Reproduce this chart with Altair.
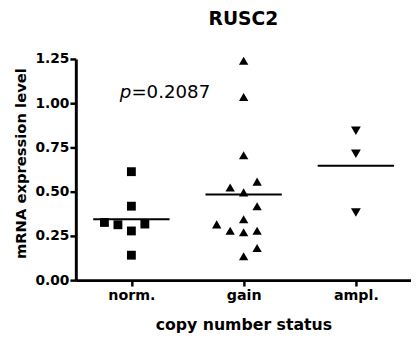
import altair as alt
import pandas as pd

# ---- data ----
groups = ["norm.", "gain", "ampl."]
group_index = [1, 2, 3]
group_shapes = ["square", "triangle-up", "triangle-down"]

norm_vals = [0.613, 0.418, 0.326, 0.313, 0.278, 0.317, 0.141]
norm_jit = [0, 0, -0.24, -0.12, 0, 0.12, 0]
gain_vals = [1.240, 1.035, 0.706, 0.557, 0.524, 0.496, 0.418, 0.344,
             0.315, 0.279, 0.271, 0.279, 0.182, 0.135]
gain_jit = [0, 0, 0, 0.12, -0.12, 0, 0.12, 0, -0.24, -0.12, 0, 0.12, 0.12, 0]
ampl_vals = [0.844, 0.715, 0.382]
ampl_jit = [0, 0, 0]

y_ticks = [0, 0.25, 0.5, 0.75, 1.0, 1.25]
p_parts = ["p", "=0.2087"]
p_pos = [1.0, 1.029]  # data coords of the annotation anchor
mean_half_width = 0.34

rows = []
for g, i, vals, jit in zip(groups, group_index, [norm_vals, gain_vals, ampl_vals],
                           [norm_jit, gain_jit, ampl_jit]):
    for v, j in zip(vals, jit):
        rows.append({"group": g, "idx": i, "value": v, "jit": j})
df = pd.DataFrame(rows)

FONT = "DejaVu Sans"
xscale = alt.Scale(domain=[0.505, 3.491], nice=False, zero=False)
yscale = alt.Scale(domain=[0, 1.25], nice=False, zero=True)

label_expr = "datum.value == 1 ? 'norm.' : datum.value == 2 ? 'gain' : datum.value == 3 ? 'ampl.' : ''"

xaxis = alt.Axis(values=group_index, labelExpr=label_expr, grid=False,
                 title="copy number status", titleFont=FONT, titleFontSize=16,
                 titleFontWeight="bold", titleColor="black", titleY=45,
                 titleBaseline="middle",
                 labelFont=FONT, labelFontSize=14.5, labelFontWeight="bold",
                 labelColor="black", labelPadding=3,
                 tickColor="black", tickSize=6, tickWidth=2.5,
                 domainColor="black", domainWidth=3)
yaxis = alt.Axis(values=y_ticks, format=".2f", grid=False,
                 title="mRNA expression level", titleFont=FONT, titleFontSize=15,
                 titleFontWeight="bold", titleColor="black",
                 titleX=-56, titleY=106, titleAngle=270,
                 titleBaseline="middle", titleAlign="center",
                 labelFont=FONT, labelFontSize=14, labelFontWeight="bold",
                 labelColor="black", labelPadding=1,
                 tickColor="black", tickSize=6, tickWidth=2.5,
                 domainColor="black", domainWidth=3)

base = alt.Chart(df)

points = base.transform_calculate(xpos="datum.idx + datum.jit").mark_point(
    filled=True, opacity=1, color="black", strokeWidth=0
).encode(
    x=alt.X("xpos:Q", scale=xscale, axis=xaxis),
    y=alt.Y("value:Q", scale=yscale, axis=yaxis),
    shape=alt.Shape("group:N", scale=alt.Scale(domain=groups, range=group_shapes), legend=None),
    size=alt.Size("group:N", scale=alt.Scale(domain=groups, range=[81, 100, 100]), legend=None),
)

means = base.transform_aggregate(
    mean_value="mean(value)", groupby=["idx"]
).transform_calculate(
    xlo=f"datum.idx - {mean_half_width}", xhi=f"datum.idx + {mean_half_width}"
).mark_rule(color="black", strokeWidth=2).encode(
    x=alt.X("xlo:Q", scale=xscale, axis=xaxis),
    x2="xhi:Q",
    y=alt.Y("mean_value:Q", scale=yscale, axis=yaxis),
)

pdf1 = pd.DataFrame({"x": [p_pos[0]], "y": [p_pos[1]], "t": [p_parts[0]]})
pdf2 = pd.DataFrame({"x": [p_pos[0]], "y": [p_pos[1]], "t": [p_parts[1]]})

p_italic = alt.Chart(pdf1).mark_text(
    font=FONT, fontSize=18.5, fontStyle="italic", align="right", baseline="alphabetic", color="black"
).encode(x=alt.X("x:Q", scale=xscale, axis=xaxis), y=alt.Y("y:Q", scale=yscale, axis=yaxis), text="t:N")

p_rest = alt.Chart(pdf2).mark_text(
    font=FONT, fontSize=18.5, align="left", baseline="alphabetic", color="black"
).encode(x=alt.X("x:Q", scale=xscale, axis=xaxis), y=alt.Y("y:Q", scale=yscale, axis=yaxis), text="t:N")

chart = alt.layer(points, means, p_italic, p_rest).properties(
    width=341, height=225,
    title=alt.TitleParams("RUSC2", font=FONT, fontSize=19, fontWeight="bold",
                          color="black", anchor="middle", offset=24),
    padding={"left": 69, "top": 49, "right": 0, "bottom": 56},
    autosize=alt.AutoSizeParams(type="none"),
    background="white",
).configure_view(stroke=None)

chart.save("out.html", embed_options={"renderer": "svg", "actions": False})
